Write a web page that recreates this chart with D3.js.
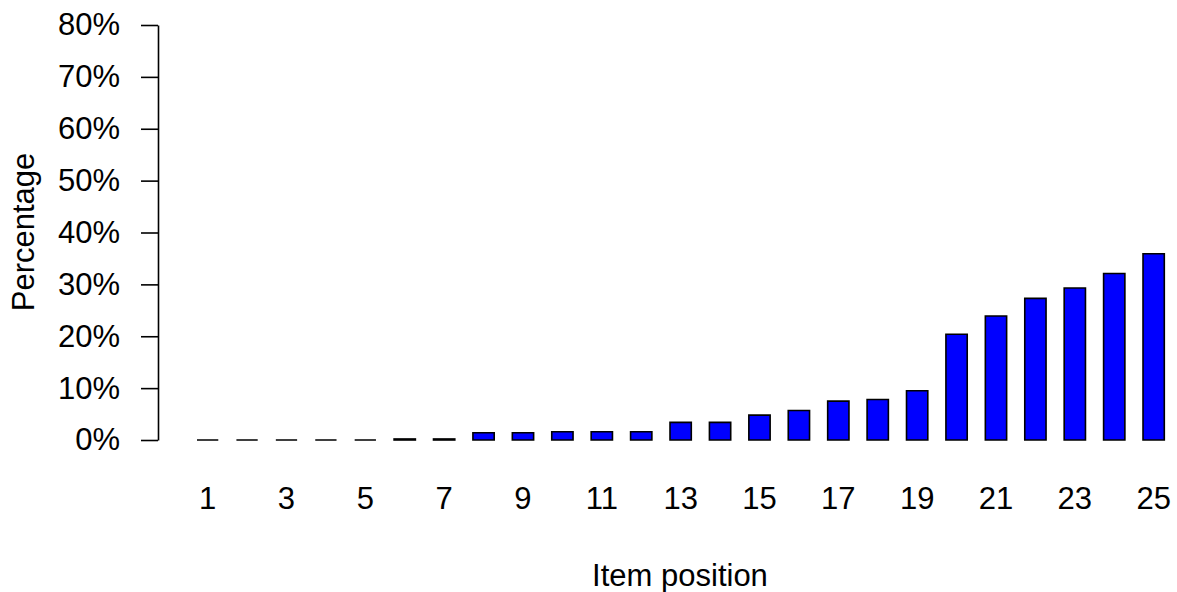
<!DOCTYPE html>
<html>
<head>
<meta charset="utf-8">
<script src="https://cdn.jsdelivr.net/npm/d3@7"></script>
<style>
    body { margin: 0; background: #fff; }
    text { font-family: "Liberation Sans", Arial, sans-serif; fill: #000; }
</style>
</head>
<body>
<div id="chart"></div>
<script>
// item positions and the share (in %) for each one
const positions = d3.range(1, 26);
const percentages = [0, 0, 0, 0, 0, 0.2, 0.2, 1.4, 1.4, 1.6, 1.6, 1.6, 3.4, 3.4, 4.8,
    5.7, 7.5, 7.8, 9.5, 20.4, 23.9, 27.3, 29.3, 32.1, 35.9];
const yTicks = [0, 10, 20, 30, 40, 50, 60, 70, 80];
const xLabels = [1, 3, 5, 7, 9, 11, 13, 15, 17, 19, 21, 23, 25];

const data = positions.map((p, i) => ({ position: p, value: percentages[i] }));

const width = 1177, height = 592;
const margin = { top: 25, left: 158, bottom: 152 };
const plotBottom = height - margin.bottom;

const svg = d3.select('#chart').append('svg')
    .attr('width', width)
    .attr('height', height);

// Scales
const xScale = d3.scaleBand()
    .domain(positions)
    .range([197, 1164.3])
    .paddingInner(0.46)
    .paddingOuter(0);

const yScale = d3.scaleLinear()
    .domain([0, 80])
    .range([plotBottom, margin.top]);

// Bars are drawn as closed paths so zero-height bars still show their outline
const barPath = d => {
    const x0 = xScale(d.position), w = xScale.bandwidth();
    const y0 = yScale(0), y1 = yScale(d.value);
    return `M${x0},${y0}H${x0 + w}V${y1}H${x0}Z`;
};

svg.append('g').selectAll('.bar')
    .data(data)
    .join('path')
    .attr('class', 'bar')
    .attr('d', barPath)
    .attr('fill', '#0000ff')
    .attr('stroke', '#000')
    .attr('stroke-width', 1.6);

// Y axis
const yAxis = d3.axisLeft(yScale)
    .tickValues(yTicks)
    .tickFormat(d => d + '%')
    .tickSize(17)
    .tickSizeOuter(0)
    .tickPadding(21);

const yAxisG = svg.append('g')
    .attr('transform', `translate(${margin.left},0)`)
    .call(yAxis);
yAxisG.selectAll('path, line').attr('stroke', '#000').attr('stroke-width', 1.6);
yAxisG.selectAll('text').style('font-size', '31px').attr('font-family', null);

// X axis labels only (no line)
const xAxis = d3.axisBottom(xScale)
    .tickValues(xLabels)
    .tickSize(0)
    .tickPadding(47);

const xAxisG = svg.append('g')
    .attr('transform', `translate(0,${plotBottom})`)
    .call(xAxis)
    .call(g => g.select('.domain').remove());
xAxisG.selectAll('text').style('font-size', '31px').attr('font-family', null);

// Axis titles
svg.append('text')
    .attr('x', 680)
    .attr('y', 586)
    .attr('text-anchor', 'middle')
    .style('font-size', '31px')
    .text('Item position');

svg.append('text')
    .attr('transform', 'translate(34,232) rotate(-90)')
    .attr('text-anchor', 'middle')
    .style('font-size', '31px')
    .text('Percentage');
</script>
</body>
</html>
